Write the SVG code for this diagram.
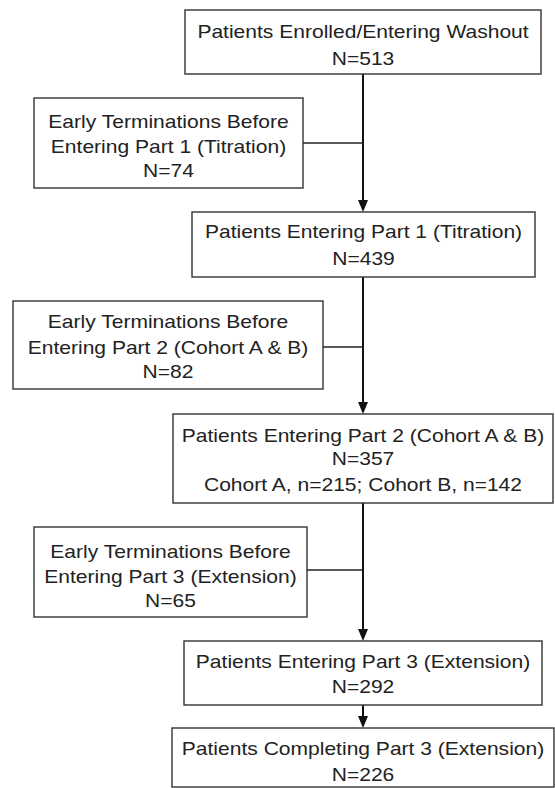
<svg xmlns="http://www.w3.org/2000/svg" width="555" height="788" viewBox="0 0 555 788">
<defs>
<style>
.box{fill:#fff;stroke:#333;stroke-width:1.4}
.t{font-family:"Liberation Sans",Arial,sans-serif;font-size:18.8px;fill:#222;text-anchor:middle}
.main{stroke:#111;stroke-width:2;fill:none}
.side{stroke:#222;stroke-width:1.3;fill:none}
</style>
</defs>
<rect width="555" height="788" fill="#fff"/>
<g id="connectors">
<line class="main" x1="363" y1="74" x2="363" y2="200"/>
<path d="M358,200 L368,200 L363,212 Z" fill="#111"/>
<line class="side" x1="303" y1="143" x2="363" y2="143"/>
<line class="main" x1="363" y1="277" x2="363" y2="402"/>
<path d="M358,402 L368,402 L363,414 Z" fill="#111"/>
<line class="side" x1="323" y1="347" x2="363" y2="347"/>
<line class="main" x1="363" y1="503" x2="363" y2="629"/>
<path d="M358,629 L368,629 L363,641 Z" fill="#111"/>
<line class="side" x1="307" y1="570" x2="363" y2="570"/>
<line class="main" x1="363" y1="705" x2="363" y2="716"/>
<path d="M358,716 L368,716 L363,728 Z" fill="#111"/>
</g>
<g id="n1">
<rect class="box" x="185" y="10" width="356" height="64"/>
<text class="t" transform="translate(363 38) scale(1.12 1)">Patients Enrolled/Entering Washout</text>
<text class="t" transform="translate(363 65) scale(1.12 1)">N=513</text>
</g>
<g id="n2">
<rect class="box" x="34" y="98" width="269" height="90"/>
<text class="t" transform="translate(168.5 128) scale(1.12 1)">Early Terminations Before</text>
<text class="t" transform="translate(168.5 153) scale(1.12 1)">Entering Part 1 (Titration)</text>
<text class="t" transform="translate(168.5 177) scale(1.12 1)">N=74</text>
</g>
<g id="n3">
<rect class="box" x="192" y="212" width="343" height="65"/>
<text class="t" transform="translate(363.5 238) scale(1.12 1)">Patients Entering Part 1 (Titration)</text>
<text class="t" transform="translate(363.5 265) scale(1.12 1)">N=439</text>
</g>
<g id="n4">
<rect class="box" x="13" y="301" width="310" height="88"/>
<text class="t" transform="translate(168 328) scale(1.12 1)">Early Terminations Before</text>
<text class="t" transform="translate(168 354) scale(1.12 1)">Entering Part 2 (Cohort A &amp; B)</text>
<text class="t" transform="translate(168 378) scale(1.12 1)">N=82</text>
</g>
<g id="n5">
<rect class="box" x="173" y="414" width="380" height="89"/>
<text class="t" transform="translate(363 442) scale(1.12 1)">Patients Entering Part 2 (Cohort A &amp; B)</text>
<text class="t" transform="translate(363 465) scale(1.12 1)">N=357</text>
<text class="t" transform="translate(363 491) scale(1.12 1)">Cohort A, n=215; Cohort B, n=142</text>
</g>
<g id="n6">
<rect class="box" x="34" y="527" width="273" height="90"/>
<text class="t" transform="translate(170.5 558) scale(1.12 1)">Early Terminations Before</text>
<text class="t" transform="translate(170.5 583) scale(1.12 1)">Entering Part 3 (Extension)</text>
<text class="t" transform="translate(170.5 607) scale(1.12 1)">N=65</text>
</g>
<g id="n7">
<rect class="box" x="184" y="641" width="358" height="64"/>
<text class="t" transform="translate(363 668) scale(1.12 1)">Patients Entering Part 3 (Extension)</text>
<text class="t" transform="translate(363 693) scale(1.12 1)">N=292</text>
</g>
<g id="n8">
<rect class="box" x="172" y="728" width="382" height="59"/>
<text class="t" transform="translate(363 755) scale(1.12 1)">Patients Completing Part 3 (Extension)</text>
<text class="t" transform="translate(363 781) scale(1.12 1)">N=226</text>
</g>
</svg>
